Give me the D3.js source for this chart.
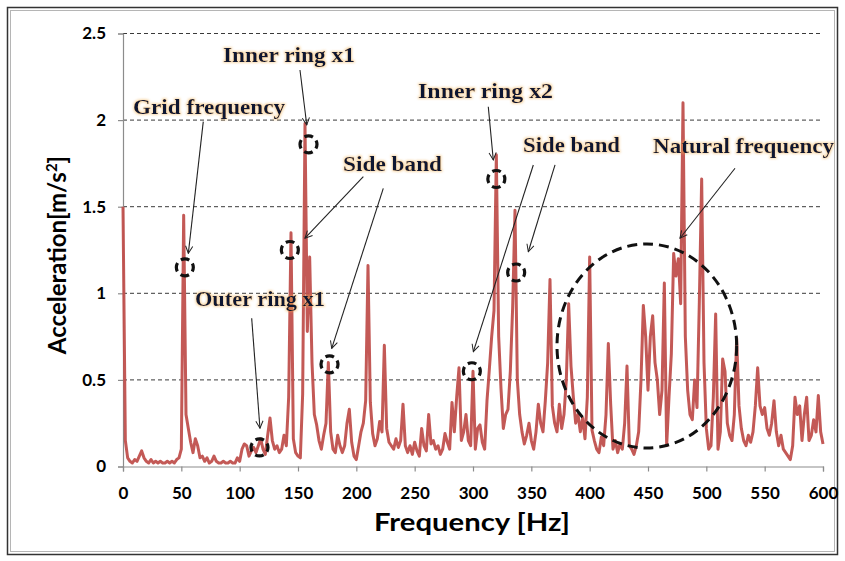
<!DOCTYPE html>
<html><head><meta charset="utf-8">
<script src="https://cdn.jsdelivr.net/npm/d3@7"></script>
<style>html,body{margin:0;padding:0;background:#fff}svg{display:block}</style>
</head><body>
<svg id="chart" width="845" height="561"></svg>
<script>
// Acceleration spectrum of the bearing, 2 Hz bins from 0 to 600 Hz
const binWidthHz = 2;
const accel0to100 = [
  1.50,0.15,0.05,0.03,0.02,0.04,0.03,0.06,0.09,0.05,
  0.03,0.02,0.04,0.02,0.03,0.02,0.03,0.02,0.02,0.03,
  0.02,0.03,0.02,0.04,0.05,0.10,1.45,0.30,0.22,0.14,
  0.08,0.16,0.12,0.05,0.06,0.03,0.05,0.02,0.03,0.06,
  0.03,0.02,0.02,0.03,0.02,0.02,0.03,0.02,0.02,0.05,
  0.03];
const accel102to200 = [
  0.10,0.13,0.12,0.06,0.09,0.11,0.08,0.12,0.16,0.10,
  0.07,0.18,0.28,0.15,0.10,0.12,0.08,0.10,0.18,0.12,
  0.40,1.35,0.16,0.08,0.06,0.05,0.42,1.98,0.78,1.21,
  0.60,0.30,0.24,0.15,0.10,0.18,0.25,0.60,0.20,0.10,
  0.08,0.18,0.12,0.08,0.12,0.25,0.33,0.14,0.06,0.04];
const accel202to300 = [
  0.12,0.20,0.25,0.38,1.16,0.37,0.19,0.12,0.16,0.26,
  0.20,0.70,0.22,0.14,0.12,0.10,0.16,0.11,0.15,0.36,
  0.12,0.08,0.12,0.07,0.14,0.09,0.06,0.22,0.12,0.09,
  0.30,0.13,0.15,0.10,0.12,0.07,0.10,0.19,0.14,0.10,
  0.37,0.20,0.40,0.57,0.15,0.20,0.30,0.15,0.12,0.55];
const accel302to400 = [
  0.10,0.22,0.24,0.14,0.10,0.38,0.56,0.75,0.90,1.80,
  0.75,0.45,0.22,0.30,0.33,0.55,0.92,1.48,0.50,0.30,
  0.20,0.13,0.18,0.25,0.15,0.10,0.20,0.36,0.25,0.20,
  0.38,0.60,1.08,0.35,0.25,0.20,0.36,0.22,0.30,0.50,
  0.94,0.58,0.40,0.25,0.30,0.20,0.28,0.16,0.40,1.21];
const accel402to500 = [
  0.21,0.15,0.10,0.08,0.17,0.12,0.30,0.71,0.36,0.10,
  0.15,0.08,0.13,0.10,0.25,0.58,0.12,0.10,0.07,0.12,
  0.20,0.50,0.93,0.75,0.44,0.75,0.87,0.60,0.50,0.30,
  0.44,1.06,0.12,0.40,0.65,1.23,1.10,1.20,0.94,2.10,
  0.75,0.44,0.30,0.27,0.50,0.34,0.95,1.66,0.60,0.22];
const accel502to600 = [
  0.10,0.12,0.40,0.88,0.10,0.20,0.62,0.55,0.25,0.18,
  0.15,0.30,0.74,0.35,0.22,0.15,0.12,0.18,0.14,0.20,
  0.35,0.57,0.35,0.30,0.34,0.22,0.18,0.25,0.38,0.20,
  0.12,0.18,0.10,0.08,0.06,0.04,0.12,0.40,0.30,0.35,
  0.15,0.30,0.40,0.15,0.18,0.27,0.20,0.41,0.20,0.13];

const xTickValues = [0,50,100,150,200,250,300,350,400,450,500,550,600];
const yTickValues = [0,0.5,1,1.5,2,2.5];
const yTickLabels = ["0","0.5","1","1.5","2","2.5"];

// Annotations, in data units (Hz, m/s²)
const labelTexts   = ["Grid frequency","Inner ring x1","Side band","Outer ring x1","Inner ring x2","Side band","Natural frequency"];
const labelAnchors = [[8.6,2.035],[85.7,2.335],[188.6,1.706],[61.7,0.927],[252.9,2.127],[342.9,1.816],[454.3,1.81]];
const arrowStarts  = [[68.8,1.991],[151.7,2.289],[206.0,1.673],[223.1,1.606],[110.3,0.856],[313.1,2.077],[351.7,1.741],[370.3,1.741],[524.6,1.722]];
const arrowEnds    = [[56.0,1.231],[157.5,1.972],[156.0,1.318],[178.9,0.682],[117.4,0.221],[317.4,1.770],[300.3,0.663],[347.4,1.240],[477.4,1.318]];
const markedPoints = [[53,1.15],[159,1.86],[143,1.25],[177,0.59],[117,0.11],[320,1.66],[337,1.12],[299,0.55]];
const regionCenter = [449,0.696];
const regionRadii  = [77,0.589];

// ---- layout ----
const W = 845, H = 561;
const plot = {left:123, right:823, top:33.5, bottom:466.5};
const labelWidths = [152,132,99,130,135,97,181];

const svg = d3.select("#chart");
const x = d3.scaleLinear().domain([0,600]).range([plot.left, plot.right]);
const y = d3.scaleLinear().domain([0,2.5]).range([plot.bottom, plot.top]);

const spectrum = [].concat(accel0to100, accel102to200, accel202to300, accel302to400, accel402to500, accel502to600)
  .map((a,i) => ({f: i*binWidthHz, a}));

const defs = svg.append("defs");
const glow = defs.append("filter").attr("id","glow").attr("x","-10%").attr("y","-40%").attr("width","120%").attr("height","180%");
glow.append("feMorphology").attr("in","SourceAlpha").attr("operator","dilate").attr("radius",0.5).attr("result","d");
glow.append("feGaussianBlur").attr("in","d").attr("stdDeviation",0.9).attr("result","b");
glow.append("feFlood").attr("flood-color","#f0b050").attr("flood-opacity",0.45);
glow.append("feComposite").attr("in2","b").attr("operator","in").attr("result","g");
const merge = glow.append("feMerge");
merge.append("feMergeNode").attr("in","g");
merge.append("feMergeNode").attr("in","SourceGraphic");

defs.append("marker").attr("id","arrowhead")
  .attr("viewBox","0 0 10 10").attr("refX",9).attr("refY",5)
  .attr("markerWidth",9).attr("markerHeight",9)
  .attr("markerUnits","userSpaceOnUse").attr("orient","auto")
  .append("path").attr("d","M1,1 L9,5 L1,9")
  .attr("fill","none").attr("stroke","#222").attr("stroke-width",1.1);

// outer frame
svg.append("rect").attr("x",7.5).attr("y",7.5).attr("width",W-15).attr("height",H-14)
  .attr("fill","#fff").attr("stroke","#333").attr("stroke-width",1.5);
svg.append("rect").attr("x",10.5).attr("y",10.5).attr("width",W-21).attr("height",H-20)
  .attr("fill","none").attr("stroke","#b5b5b5").attr("stroke-width",1);

// horizontal dashed gridlines
svg.append("g").selectAll("line").data(yTickValues.filter(v => v > 0)).join("line")
  .attr("x1",plot.left).attr("x2",plot.right)
  .attr("y1",d => y(d)).attr("y2",d => y(d))
  .attr("stroke","#3a3a3a").attr("stroke-width",1).attr("stroke-dasharray","4,3");

// axes
const tickFont = "Lato, 'Liberation Sans', sans-serif";
const yAxis = svg.append("g").attr("transform",`translate(${plot.left},0)`)
  .call(d3.axisLeft(y).tickValues(yTickValues).tickFormat((d,i) => yTickLabels[i]).tickSize(5).tickPadding(12));
const xAxis = svg.append("g").attr("transform",`translate(0,${plot.bottom})`)
  .call(d3.axisBottom(x).tickValues(xTickValues).tickFormat(d3.format("d")).tickSize(5).tickPadding(15));
[yAxis, xAxis].forEach(g => {
  g.select(".domain").attr("stroke","#8c8c8c").attr("stroke-width",1.2);
  g.selectAll(".tick line").attr("stroke","#8c8c8c").attr("stroke-width",1.2);
  g.selectAll(".tick text").attr("fill","#000").attr("font-family",tickFont)
    .attr("font-weight",700).attr("font-size",17);
});

// spectrum line
svg.append("path").datum(spectrum)
  .attr("d", d3.line().x(d => x(d.f)).y(d => y(d.a)))
  .attr("fill","none").attr("stroke","#c0504d").attr("stroke-width",3)
  .attr("stroke-linejoin","round").attr("stroke-opacity",0.95);

// axis titles
svg.append("text").attr("x",472).attr("y",531).attr("text-anchor","middle")
  .attr("font-family",tickFont).attr("font-weight",700).attr("font-size",24)
  .attr("textLength",196).attr("lengthAdjust","spacingAndGlyphs")
  .text("Frequency [Hz]");
const yTitle = svg.append("text").attr("transform","translate(66,255) rotate(-90)")
  .attr("text-anchor","middle").attr("font-family",tickFont).attr("font-weight",700).attr("font-size",24);
yTitle.append("tspan").text("Acceleration[m/s");
yTitle.append("tspan").attr("font-size",15).attr("dy",-9).text("2");
yTitle.append("tspan").attr("dy",9).text("]");

// region of interest (dashed ellipse)
svg.append("ellipse")
  .attr("cx",x(regionCenter[0])).attr("cy",y(regionCenter[1]))
  .attr("rx",x(regionRadii[0]) - x(0)).attr("ry",y(0) - y(regionRadii[1]))
  .attr("fill","none").attr("stroke","#111").attr("stroke-width",3).attr("stroke-dasharray","10,6");

// small dashed circles on marked components: four dashes centred on the cardinal points
const r = 8.5, circ = 2*Math.PI*r, seg = circ/4, dash = seg*0.66;
svg.append("g").selectAll("circle").data(markedPoints).join("circle")
  .attr("cx",d => x(d[0])).attr("cy",d => y(d[1])).attr("r",r)
  .attr("fill","none").attr("stroke","#111").attr("stroke-width",3.2)
  .attr("stroke-dasharray",`${dash},${seg-dash}`)
  .attr("stroke-dashoffset",dash/2);

// arrows
svg.append("g").selectAll("line").data(arrowStarts).join("line")
  .attr("x1",d => x(d[0])).attr("y1",d => y(d[1]))
  .attr("x2",(d,i) => x(arrowEnds[i][0])).attr("y2",(d,i) => y(arrowEnds[i][1]))
  .attr("stroke","#222").attr("stroke-width",1.1).attr("marker-end","url(#arrowhead)");

// labels
svg.append("g").selectAll("text").data(labelTexts).join("text")
  .attr("x",(d,i) => x(labelAnchors[i][0])).attr("y",(d,i) => y(labelAnchors[i][1]))
  .attr("font-family","'Liberation Serif', 'DejaVu Serif', serif").attr("font-weight",700).attr("font-size",22)
  .attr("fill","#101830").attr("filter","url(#glow)")
  .attr("textLength",(d,i) => labelWidths[i]).attr("lengthAdjust","spacingAndGlyphs")
  .text(d => d);
</script>
</body></html>
